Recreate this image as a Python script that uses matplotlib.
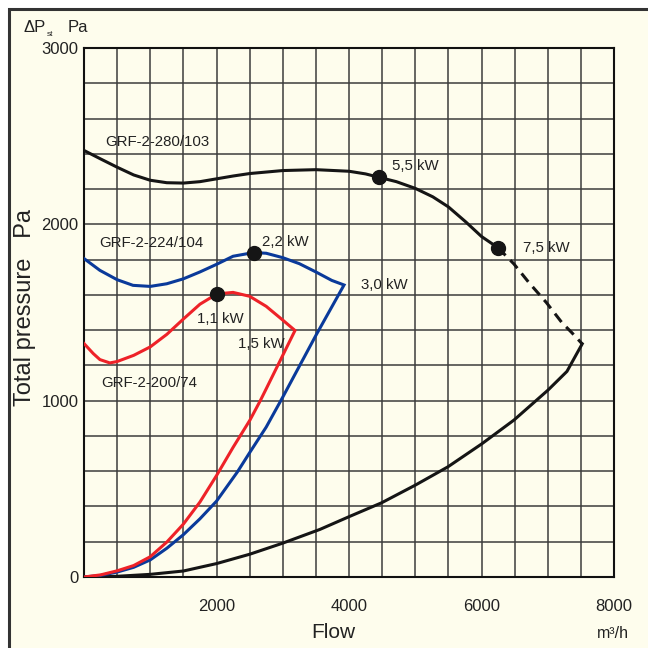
import matplotlib
matplotlib.use("Agg")
import matplotlib.pyplot as plt
from matplotlib.patches import Rectangle

plt.rcParams['font.family'] = ['Liberation Sans', 'DejaVu Sans']

# GRF-2-280/103 (black): fan curve, dashed tail, system curve back to origin
black_fan_x = [0, 250, 500, 750, 1000, 1250, 1500, 1750, 2000, 2250, 2500, 3000, 3500, 4000,
               4250, 4450, 4715, 5000, 5265, 5500, 5765, 6000, 6250]
black_fan_y = [2419, 2371, 2324, 2280, 2250, 2236, 2234, 2242, 2258, 2274, 2288, 2305, 2310, 2301,
               2286, 2267, 2242, 2204, 2156, 2099, 2013, 1931, 1867]
black_dash_x = [6250, 6365, 6490, 6715, 6980, 7215, 7365, 7520]
black_dash_y = [1867, 1823, 1775, 1670, 1556, 1442, 1385, 1322]
black_sys_x = [7520, 7415, 7290, 7004, 6490, 6000, 5494, 5006, 4493, 4000, 3562, 3000, 2500,
               2000, 1500, 1000, 500, 0]
black_sys_y = [1322, 1251, 1166, 1060, 890, 754, 625, 522, 421, 342, 270, 192, 129,
               76, 34, 15, 4, 0]

# GRF-2-224/104 (blue): fan curve then system curve back to origin
blue_x = [0, 240, 500, 740, 1000, 1250, 1500, 1750, 2000, 2250, 2560, 2750, 3000, 3250, 3500, 3740, 3925,
          3500, 3250, 3000, 2750, 2500, 2314, 2000, 1750, 1500, 1250, 1000, 750, 500, 250, 0]
blue_y = [1806, 1739, 1686, 1654, 1648, 1663, 1691, 1730, 1773, 1819, 1840, 1836, 1811, 1777, 1730, 1682, 1656,
          1370, 1195, 1020, 850, 705, 595, 430, 330, 240, 163, 97, 55, 28, 9, 0]

# GRF-2-200/74 (red)
red_x = [0, 140, 240, 390, 500, 750, 1000, 1250, 1500, 1750, 2005, 2250, 2500, 2750, 3000, 3185,
         3000, 2750, 2661, 2505, 2250, 2000, 1750, 1500, 1250, 1000, 750, 500, 250, 0]
red_y = [1324, 1267, 1233, 1214, 1222, 1257, 1305, 1376, 1463, 1547, 1605, 1614, 1592, 1535, 1457, 1398,
         1257, 1067, 1000, 890, 735, 575, 425, 300, 198, 115, 65, 35, 12, 0]

# motor power points
dot_x = [4450, 6250, 2560, 2005]
dot_y = [2267, 1867, 1840, 1605]

curve_names = ['GRF-2-280/103', 'GRF-2-224/104', 'GRF-2-200/74']
power_labels = ['5,5 kW', '7,5 kW', '3,0 kW', '2,2 kW', '1,1 kW', '1,5 kW']

x_ticks = [2000, 4000, 6000, 8000]
y_ticks = [0, 1000, 2000, 3000]

cream = '#fefded'
blue = '#0a3a9a'
red = '#ee2228'
black = '#151515'

fig = plt.figure(figsize=(6.48, 6.48), dpi=100, facecolor='white')

# outer cream panel with dark border
fig.patches.append(Rectangle((8.5 / 648, -0.1), 1.2, 1.1 - 9.5 / 648,
                             transform=fig.transFigure, facecolor=cream,
                             edgecolor='#333333', linewidth=2.2, zorder=-1))

ax = fig.add_axes([84 / 648, 71 / 648, 530 / 648, 529 / 648])
ax.set_zorder(2)
ax.set_facecolor(cream)
ax.set_xlim(0, 8000)
ax.set_ylim(0, 3000)

# grid every 500 m3/h and 200 Pa
for gx in range(500, 8000, 500):
    ax.axvline(gx, color='#3c3c3c', lw=1.1, zorder=1)
for gy in range(200, 3000, 200):
    ax.axhline(gy, color='#3c3c3c', lw=1.1, zorder=1)

for s in ax.spines.values():
    s.set_linewidth(1.5)
    s.set_color('#111111')

ax.set_xticks(x_ticks)
ax.set_yticks(y_ticks)
ax.tick_params(length=0, labelsize=12, colors='#222222')
ax.tick_params(axis='x', pad=16)
ax.tick_params(axis='y', pad=4)

lw = 2.2
ax.plot(black_fan_x, black_fan_y, color=black, lw=lw, zorder=3)
ax.plot(black_dash_x, black_dash_y, color=black, lw=lw, dashes=(3.5, 2.2), zorder=3)
ax.plot(black_sys_x, black_sys_y, color=black, lw=lw, zorder=3)
ax.plot(blue_x, blue_y, color=blue, lw=lw, zorder=3, solid_joinstyle='miter')
ax.plot(red_x, red_y, color=red, lw=lw, zorder=4, solid_joinstyle='miter')
ax.plot(dot_x, dot_y, 'o', color=black, ms=10, zorder=5)

fs = 10.8
tc = '#222222'
ax.text(317, 2469, curve_names[0], fontsize=fs, color=tc, va='center')
ax.text(226, 1892, curve_names[1], fontsize=fs, color=tc, va='center')
ax.text(267, 1100, curve_names[2], fontsize=fs, color=tc, va='center')
label_pos = [(4644, 2332), (6626, 1866), (4176, 1656), (2682, 1900), (1701, 1463), (2320, 1321)]
for (lx, ly), lab in zip(label_pos, power_labels):
    ax.text(lx, ly, lab, fontsize=fs, color=tc, va='center')

# axis titles
fig.text(333 / 648, 1 - 632 / 648, 'Flow', fontsize=15, color=tc, ha='center', va='center')
fig.text(613 / 648, 1 - 633 / 648, 'm³/h', fontsize=11.5, color=tc, ha='center', va='center')
fig.text(25 / 648, 1 - 307 / 648, 'Total pressure   Pa', fontsize=17, color=tc,
         rotation=90, ha='center', va='center')
fig.text(24 / 648, 1 - 28 / 648, 'ΔP', fontsize=12, color=tc, ha='left', va='center')
fig.text(47 / 648, 1 - 34 / 648, 'st', fontsize=6, color=tc, ha='left', va='center')
fig.text(68 / 648, 1 - 28 / 648, 'Pa', fontsize=12, color=tc, ha='left', va='center')

fig.savefig('out.png', dpi=100, facecolor='white')
